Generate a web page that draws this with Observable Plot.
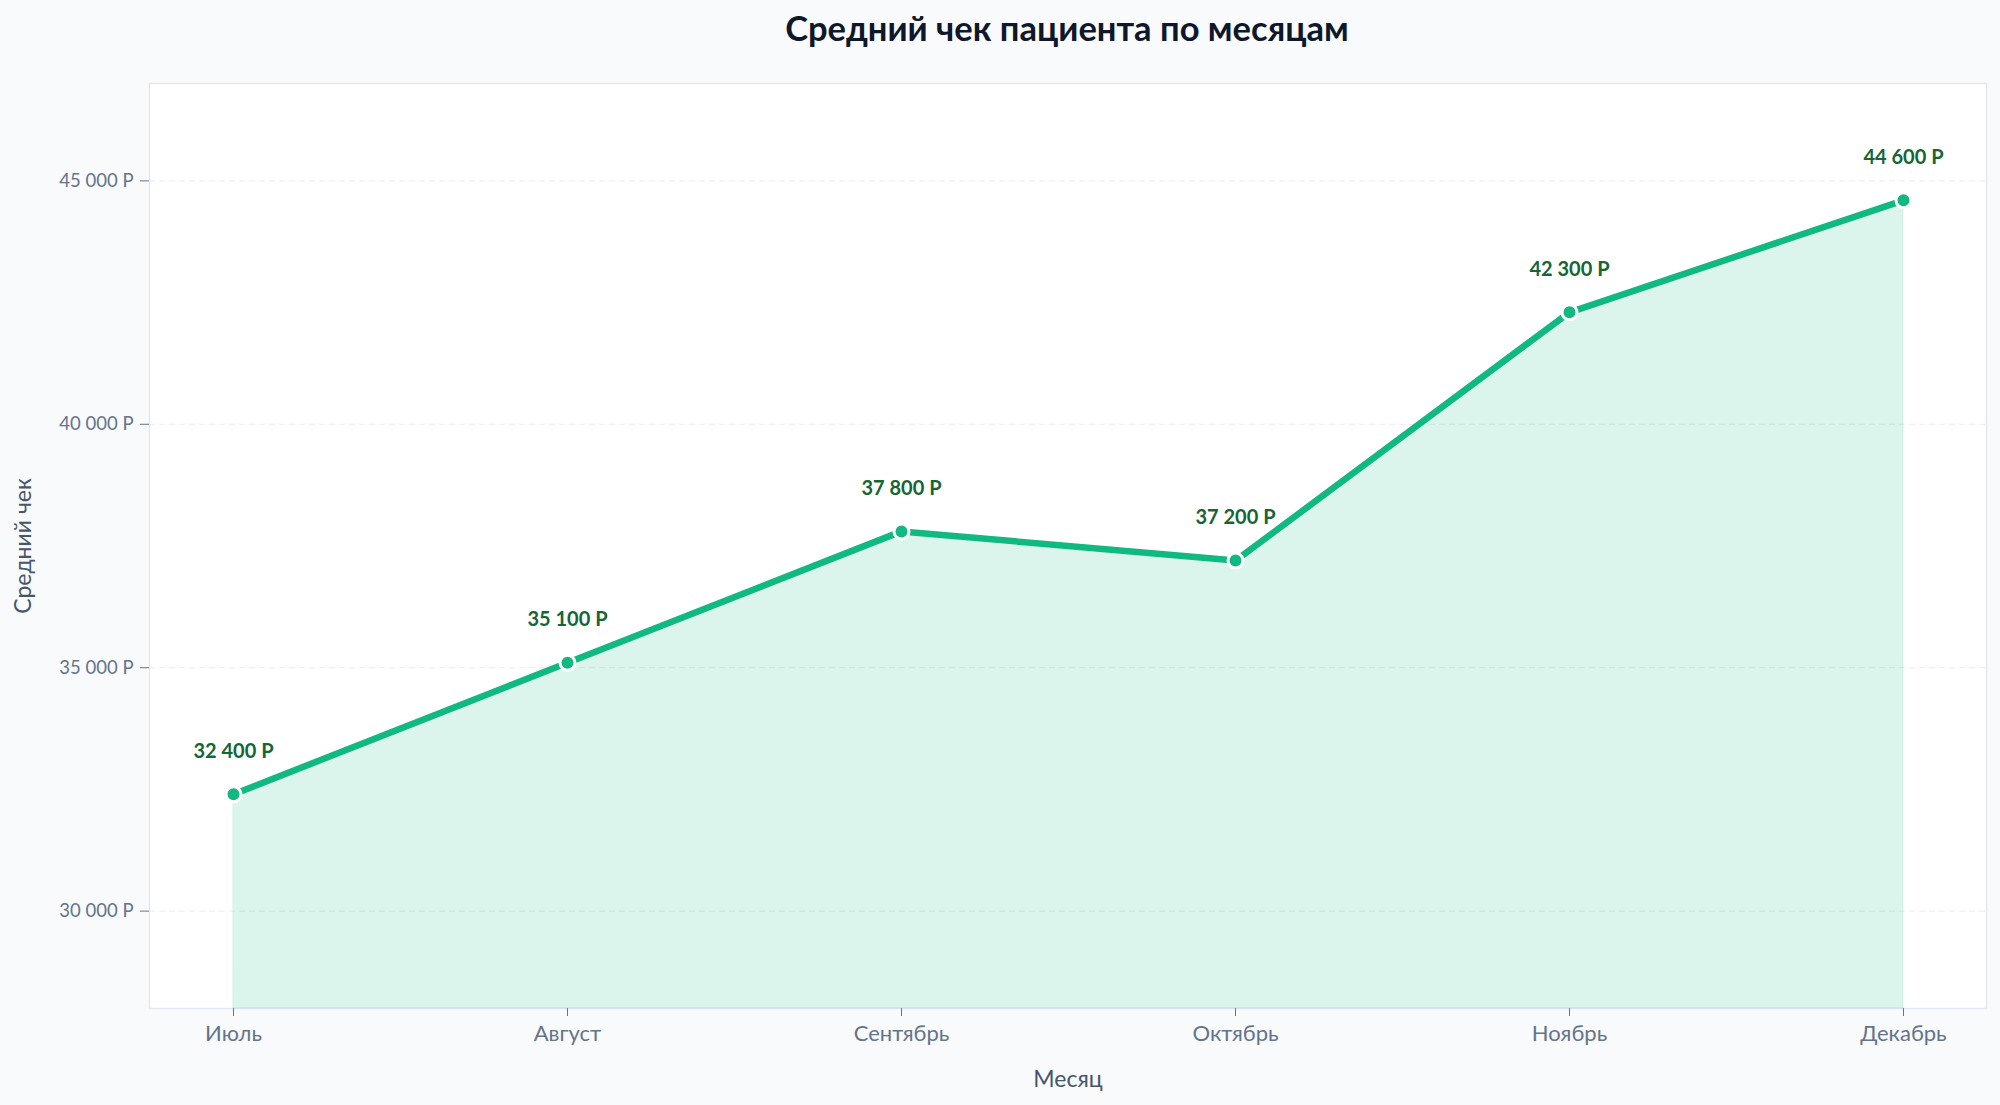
<!DOCTYPE html>
<html>
<head>
<meta charset="utf-8">
<script src="https://cdn.jsdelivr.net/npm/d3@7"></script>
<script src="https://cdn.jsdelivr.net/npm/@observablehq/plot@0.6"></script>
<style>
  html, body { margin: 0; padding: 0; background: #f8fafc; }
  body { width: 2000px; height: 1105px; overflow: hidden; font-family: Lato, "Noto Sans", sans-serif; }
  #title { height: 56px; line-height: 56px; font-size: 34.5px; font-weight: 700; color: #0f172a; position: relative; }
  #title span { position: absolute; left: 1067px; transform: translateX(-50%); white-space: nowrap; top: 0; }
  #chart svg { display: block; }
</style>
</head>
<body>
<div id="title"><span>Средний чек пациента по месяцам</span></div>
<div id="chart"></div>
<script>
const months = ["Июль", "Август", "Сентябрь", "Октябрь", "Ноябрь", "Декабрь"];
const avgCheck = [32400, 35100, 37800, 37200, 42300, 44600];
const yTicks = [30000, 35000, 40000, 45000];
const yDomain = [28000, 47000];

const data = months.map((m, i) => ({month: m, value: avgCheck[i]}));
const fmt = v => d3.format(",")(v).replace(/,/g, "\u00a0") + "\u00a0Р";

const chart = Plot.plot({
  width: 2000,
  height: 1049,
  marginTop: 27,
  marginBottom: 97,
  marginLeft: 149,
  marginRight: 14,
  style: {background: "transparent", fontFamily: "Lato, 'Noto Sans', sans-serif"},
  x: {type: "point", domain: months, padding: 0.25, label: null},
  y: {domain: yDomain, label: null},
  marks: [
    Plot.frame({fill: "white", stroke: "#e2e8f0", strokeWidth: 1.5}),
    Plot.gridY(yTicks, {stroke: "#e2e8f0", strokeOpacity: 0.8, strokeDasharray: "6,4"}),
    Plot.areaY(data, {x: "month", y1: yDomain[0], y2: "value", fill: "#10b981", fillOpacity: 0.15, stroke: "#10b981", strokeOpacity: 0.12}),
    Plot.lineY(data, {x: "month", y: "value", stroke: "#10b981", strokeWidth: 6.5}),
    Plot.dot(data, {x: "month", y: "value", r: 7.5, fill: "#10b981", stroke: "white", strokeWidth: 3}),
    Plot.text(data, {x: "month", y: "value", text: d => fmt(d.value), dy: -43, fill: "#166534", fontWeight: 700, fontSize: 20}),
    Plot.axisY(yTicks, {tickFormat: fmt, tickSize: 9, tickPadding: 7, fontSize: 18.5, color: "#64748b", stroke: "#64748b", label: null}),
    Plot.axisX({tickSize: 8, tickPadding: 9, fontSize: 22, color: "#64748b", label: null}),
    Plot.text(["Месяц"], {frameAnchor: "bottom", dy: 78, fontSize: 23, fill: "#475569"}),
    Plot.text(["Средний чек"], {frameAnchor: "left", textAnchor: "middle", dx: -126, rotate: -90, fontSize: 23, fill: "#475569"})
  ]
});
document.getElementById("chart").appendChild(chart);
</script>
</body>
</html>
